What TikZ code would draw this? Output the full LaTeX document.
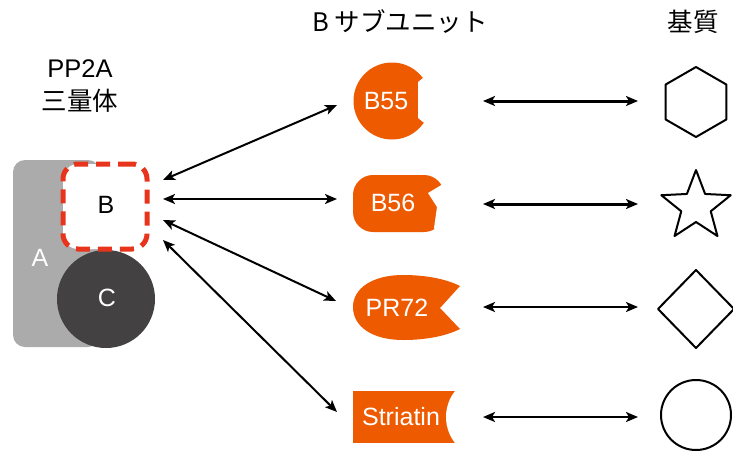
\documentclass[tikz,border=0pt]{standalone}
\usepackage{fontspec}
\setmainfont{Liberation Sans}
\newfontfamily\jp{Noto Sans CJK JP}
\usetikzlibrary{arrows.meta}
\definecolor{orng}{HTML}{EE5A00}
\definecolor{grayA}{HTML}{ABABAB}
\definecolor{darkC}{HTML}{434142}
\definecolor{redB}{HTML}{E8341C}
\tikzset{
  lbl/.style={font=\fontsize{25}{27}\selectfont, inner sep=0pt},
  wlbl/.style={lbl, text=white},
  title/.style={font=\jp\fontsize{25.5}{28}\selectfont, inner sep=0pt},
  subst/.style={draw=black, line width=2pt, line join=round, fill=white},
  link/.style={line width=2pt, {Stealth[length=12pt,width=10pt,inset=3pt]}-{Stealth[length=12pt,width=10pt,inset=3pt]}},
  thick link/.style={link, line width=3pt},
}
\begin{document}
\begin{tikzpicture}[x=1pt,y=-1pt]
\useasboundingbox (0,0) rectangle (733,450);
% titles
\node[title] (t1) at (80,69) {\rmfamily PP2A};
\node[title] (t2) at (80,101) {三量体};
\node[title] (t3) at (400,22) {B サブユニット};
\node[title] (t4) at (693,22) {基質};
% trimer
\fill[grayA, rounded corners=12pt] (13,160) rectangle (100,347);
\node[wlbl] (A) at (40,258) {A};
\fill[darkC] (106,299) circle (49);
\node[wlbl] (C) at (107,298) {C};
\node[draw=redB, line width=5pt, dash pattern=on 14pt off 8pt, rounded corners=15pt, fill=white,
      minimum width=84pt, minimum height=85pt, inner sep=0pt] (Bbox) at (105,206.5) {};
\node[lbl] (B) at (106,205) {B};
% B55
\fill[orng] (392,101) circle (38.5);
\fill[white] (433,70) -- (418,82) -- (418,118) -- (433,130) -- (442,130) -- (442,70) -- cycle;
\node[wlbl] (b55) at (386,101) {B55};
% B56
\fill[orng, rounded corners=20pt] (353,175) rectangle (444,232);
\fill[white] (452,168) -- (443,184) -- (428,193) -- (437,207) -- (434,228) -- (441,236) -- (452,236) -- cycle;
\node[wlbl] (b56) at (393,203) {B56};
% PR72
\fill[orng] (353,307) .. controls (353,288) and (373,275) .. (403,275)
  .. controls (426,275) and (446,279) .. (460,286) -- (440,308) -- (460,329)
  .. controls (446,336) and (426,340) .. (403,340)
  .. controls (373,340) and (353,327) .. (353,307) -- cycle;
\node[wlbl] (pr72) at (397,308) {PR72};
% Striatin
\fill[orng] (353,391) rectangle (457,443);
\fill[white] (488,417) circle (42);
\node[wlbl] (str) at (401,417) {Striatin};
% substrates
\draw[subst] (696,67) -- (726.3,84.5) -- (726.3,119.5) -- (696,137) -- (665.7,119.5) -- (665.7,84.5) -- cycle;
\draw[subst] (696,170)
  \foreach \k in {1,...,9} {
    -- ({696+(mod(\k,2)==1 ? 15.5 : 36.5)*cos(90+36*\k)}, {206.5-(mod(\k,2)==1 ? 15.5 : 36.5)*sin(90+36*\k)})
  } -- cycle;
\draw[subst] (696,270) -- (734,309) -- (696,348) -- (658,309) -- cycle;
\draw[subst] (696,415) circle (35);
% connectors
\coordinate (l1a) at (163,180); \coordinate (l1b) at (337,105);
\coordinate (l2a) at (163,199); \coordinate (l2b) at (337,199);
\coordinate (l3a) at (163,220); \coordinate (l3b) at (336,301);
\coordinate (l4a) at (163,240); \coordinate (l4b) at (337,412);
\coordinate (r1a) at (483,101); \coordinate (r1b) at (638,101);
\coordinate (r2a) at (483,204); \coordinate (r2b) at (638,204);
\coordinate (r3a) at (483,307); \coordinate (r3b) at (638,307);
\coordinate (r4a) at (483,417); \coordinate (r4b) at (638,417);
\draw[link] (l1a) -- (l1b);
\draw[link] (l2a) -- (l2b);
\draw[link] (l3a) -- (l3b);
\draw[link] (l4a) -- (l4b);
\draw[thick link] (r1a) -- (r1b);
\draw[thick link] (r2a) -- (r2b);
\draw[link, line width=2.5pt] (r3a) -- (r3b);
\draw[link, line width=2.5pt] (r4a) -- (r4b);
\end{tikzpicture}
\end{document}
